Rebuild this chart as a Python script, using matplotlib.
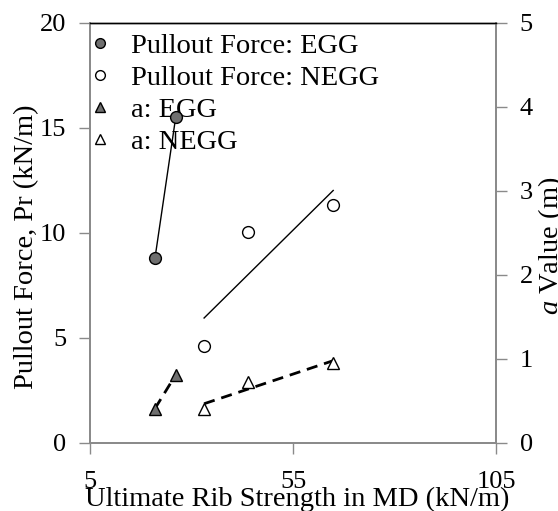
import numpy as np
import matplotlib
matplotlib.use("Agg")
import matplotlib.pyplot as plt
from matplotlib.lines import Line2D

plt.rcParams["font.family"] = ["Liberation Serif", "DejaVu Serif"]
plt.rcParams["mathtext.fontset"] = "custom"
plt.rcParams["mathtext.it"] = "Liberation Serif:italic"
plt.rcParams["mathtext.rm"] = "Liberation Serif"

# Ultimate rib strength in MD (kN/m)
x_egg = [21.0, 26.1]
x_negg = [33.1, 44.0, 64.9]
# Pullout force Pr (kN/m)
pr_egg = [8.8, 15.5]
pr_negg = [4.62, 10.06, 11.33]
# a value (m)
a_egg = [0.41, 0.81]
a_negg = [0.41, 0.73, 0.95]

x_ticks = [5, 55, 105]
pr_ticks = [0, 5, 10, 15, 20]
a_ticks = [0, 1, 2, 3, 4, 5]

GRAY_FILL = "#6f6f6f"
SPINE = "#8a8a8a"
FS = 20.5
TFS = 19

fig = plt.figure(figsize=(5.58, 5.11), dpi=100)
ax = fig.add_axes([0.1613, 0.1331, 0.7276, 0.8219])
ax2 = ax.twinx()


def trend(x, y):
    k, b = np.polyfit(x, y, 1)
    xs = np.array([min(x), max(x)])
    return xs, k * xs + b


# trend lines (solid = pullout force, dashed = a value)
ax.plot(*trend(x_egg, pr_egg), color="black", lw=1.0, zorder=2)
ax.plot(*trend(x_negg, pr_negg), color="black", lw=1.0, zorder=2)
ax2.plot(*trend(x_egg, a_egg), color="black", lw=2.0, ls=(0, (4, 2.5)), zorder=2)
ax2.plot(*trend(x_negg, a_negg), color="black", lw=2.0, ls=(0, (4, 2.5)), zorder=2)

ms = 8.5
ax.plot(x_egg, pr_egg, "o", ms=ms, mfc=GRAY_FILL, mec="black", mew=1.0, zorder=3)
ax.plot(x_negg, pr_negg, "o", ms=ms, mfc="white", mec="black", mew=1.0, zorder=3)
ax2.plot(x_egg, a_egg, "^", ms=ms, mfc=GRAY_FILL, mec="black", mew=1.0, zorder=3)
ax2.plot(x_negg, a_negg, "^", ms=ms, mfc="white", mec="black", mew=1.0, zorder=3)

ax.set_xlim(5, 105)
ax.set_ylim(0, 20)
ax2.set_ylim(0, 5)
ax.set_xticks(x_ticks)
ax.set_yticks(pr_ticks)
ax2.set_yticks(a_ticks)

for a in (ax, ax2):
    for s in ("left", "right", "bottom"):
        a.spines[s].set_color(SPINE)
        a.spines[s].set_linewidth(1.3)
    a.spines["top"].set_color("black")
    a.spines["top"].set_linewidth(1.0)
    a.tick_params(direction="out", length=8, width=1.0, color=SPINE,
                  labelsize=TFS, pad=9)
ax.tick_params(axis="x", pad=12)

ax.set_ylabel("Pullout Force, Pr (kN/m)", fontsize=FS)
ax.yaxis.set_label_coords(-0.156, 0.467)
ax.yaxis.label.set_va("center")
ax2.set_ylabel("$a$ Value (m)", fontsize=FS)
ax2.yaxis.set_label_coords(1.136, 0.469)
ax2.yaxis.label.set_va("center")
ax.set_xlabel("Ultimate Rib Strength in MD (kN/m)", fontsize=FS)
ax.xaxis.set_label_coords(0.51, -0.105)
ax.xaxis.label.set_va("top")

lms = 7
handles = [
    Line2D([], [], ls="none", marker="o", ms=lms, mfc=GRAY_FILL, mec="black"),
    Line2D([], [], ls="none", marker="o", ms=lms, mfc="white", mec="black"),
    Line2D([], [], ls="none", marker="^", ms=lms, mfc=GRAY_FILL, mec="black"),
    Line2D([], [], ls="none", marker="^", ms=lms, mfc="white", mec="black"),
]
labels = ["Pullout Force: EGG", "Pullout Force: NEGG", "a: EGG", "a: NEGG"]
leg = ax.legend(handles, labels, loc="upper left", bbox_to_anchor=(-0.0246, 0.99),
                frameon=False, fontsize=FS, handlelength=1.0, handletextpad=0.58,
                labelspacing=0.21, borderaxespad=0.0, borderpad=0.2)
leg.set_zorder(1)

fig.savefig("out.png", dpi=100)
